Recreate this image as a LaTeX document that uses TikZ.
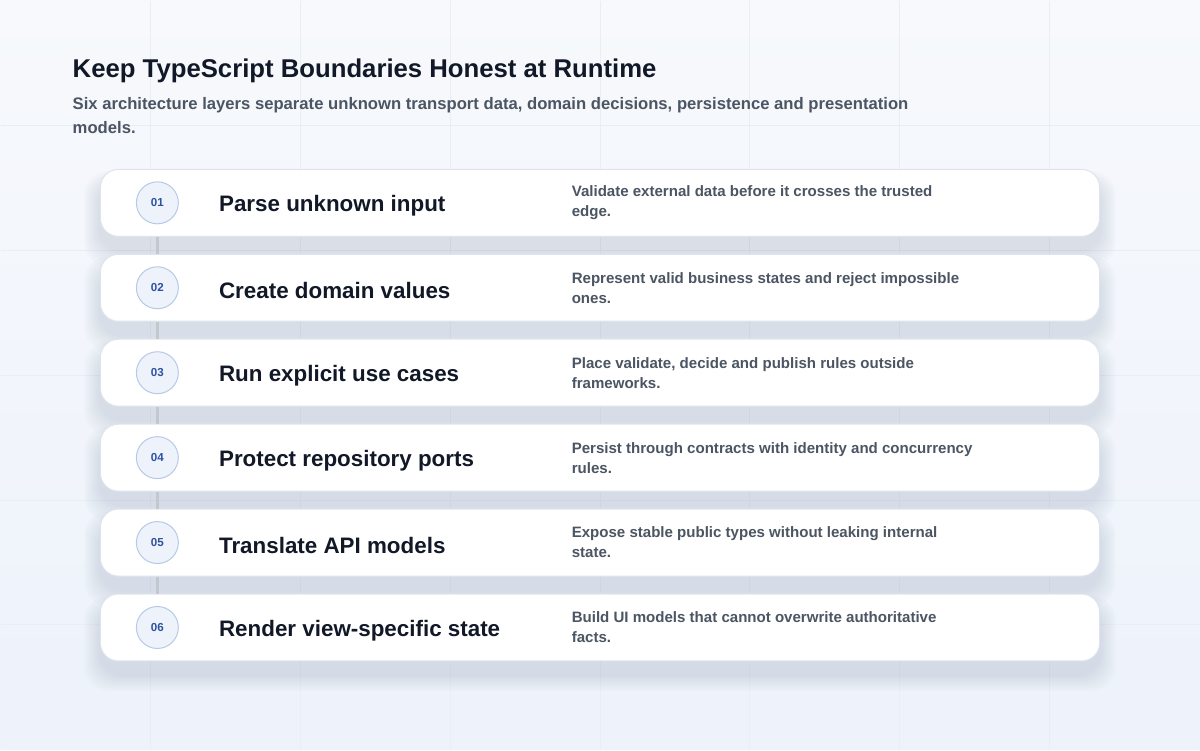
\documentclass[tikz,border=0pt]{standalone}
\usepackage{fontspec}
\setmainfont{Liberation Sans}
\usetikzlibrary{positioning}

\definecolor{bgtop}{HTML}{F7F9FC}
\definecolor{bgbot}{HTML}{EDF2FB}
\definecolor{gridc}{HTML}{E9EDF4}
\definecolor{ink}{HTML}{111827}
\definecolor{muted}{HTML}{4B5563}
\definecolor{cardline}{HTML}{DFE4EC}
\definecolor{shadowc}{HTML}{8A97B0}
\definecolor{numfill}{HTML}{EEF3FB}
\definecolor{numline}{HTML}{B7C9E6}
\definecolor{numtext}{HTML}{2D52A0}
\definecolor{linkc}{HTML}{C3C7CE}

\begin{document}
\begin{tikzpicture}
		[x=0.75pt, y=-0.75pt,
		 card/.style = {draw=cardline, line width=0.75pt, fill=white, rounded corners=13.5pt, minimum width=750pt, minimum height=50.25pt, inner sep=0pt},
		 num/.style = {draw=numline, line width=0.75pt, fill=numfill, circle, minimum size=31.5pt, inner sep=0pt, text=numtext, font=\bfseries\fontsize{8.7pt}{10pt}\selectfont},
		 ttl/.style = {inner sep=0pt, anchor=west, yshift=-2.25pt, text=ink, font=\bfseries\fontsize{16.8pt}{19pt}\selectfont},
		 desc/.style = {inner sep=0pt, anchor=west, align=left, text=muted, font=\bfseries\fontsize{11.3pt}{15pt}\selectfont},
		 link/.style = {draw=linkc, line width=2.5pt},
		 node distance=12.75pt]
		% background and grid
		\shade[top color=bgtop, bottom color=bgbot] (0,0) rectangle (1200,750);
		\foreach \gx in {150,300,...,1050} \draw[gridc, line width=0.75pt] (\gx,0) -- (\gx,750);
		\foreach \gy in {125,250,...,625} \draw[gridc, line width=0.75pt] (0,\gy) -- (1200,\gy);
		\useasboundingbox (0,0) rectangle (1200,750);

		% heading
		\node[inner sep=0pt, anchor=base west, text=ink, font=\bfseries\fontsize{19.3pt}{22pt}\selectfont] (title) at (72,77) {Keep TypeScript Boundaries Honest at Runtime};
		\node[inner sep=0pt, anchor=north west, align=left, text=muted, font=\bfseries\fontsize{12.5pt}{18pt}\selectfont] (sub) at (72,97) {Six architecture layers separate unknown transport data, domain decisions, persistence and presentation\\models.};

		% soft shadows under the cards
		\foreach \cy in {202.5,287.5,...,627.5}
			\foreach \s in {1,...,8}
				\fill[shadowc, opacity=0.03, rounded corners=18pt] (100-2*\s,\cy-33.5+14-1.5*\s) rectangle (1100+2*\s,\cy+33.5+14+2*\s);

		% cards
		\node[card] (c1) at (600,202.5) {};
		\node[card, below=of c1] (c2) {};
		\node[card, below=of c2] (c3) {};
		\node[card, below=of c3] (c4) {};
		\node[card, below=of c4] (c5) {};
		\node[card, below=of c5] (c6) {};

		% links between steps
		\draw[link] (c1.south -| 157,0) -- (c2.north -| 157,0);
		\draw[link] (c2.south -| 157,0) -- (c3.north -| 157,0);
		\draw[link] (c3.south -| 157,0) -- (c4.north -| 157,0);
		\draw[link] (c4.south -| 157,0) -- (c5.north -| 157,0);
		\draw[link] (c5.south -| 157,0) -- (c6.north -| 157,0);

		\node[num, right=27pt of c1.west] (n1) {01};
		\node[num, right=27pt of c2.west] (n2) {02};
		\node[num, right=27pt of c3.west] (n3) {03};
		\node[num, right=27pt of c4.west] (n4) {04};
		\node[num, right=27pt of c5.west] (n5) {05};
		\node[num, right=27pt of c6.west] (n6) {06};

		\node[ttl, right=89.25pt of c1.west] (t1) {Parse unknown input};
		\node[ttl, right=89.25pt of c2.west] (t2) {Create domain values};
		\node[ttl, right=89.25pt of c3.west] (t3) {Run explicit use cases};
		\node[ttl, right=89.25pt of c4.west] (t4) {Protect repository ports};
		\node[ttl, right=89.25pt of c5.west] (t5) {Translate API models};
		\node[ttl, right=89.25pt of c6.west] (t6) {Render view-specific state};

		\node[desc, right=354pt of c1.west] (d1) {Validate external data before it crosses the trusted\\edge.};
		\node[desc, right=354pt of c2.west] (d2) {Represent valid business states and reject impossible\\ones.};
		\node[desc, right=354pt of c3.west] (d3) {Place validate, decide and publish rules outside\\frameworks.};
		\node[desc, right=354pt of c4.west] (d4) {Persist through contracts with identity and concurrency\\rules.};
		\node[desc, right=354pt of c5.west] (d5) {Expose stable public types without leaking internal\\state.};
		\node[desc, right=354pt of c6.west] (d6) {Build UI models that cannot overwrite authoritative\\facts.};
	\end{tikzpicture}
\end{document}
